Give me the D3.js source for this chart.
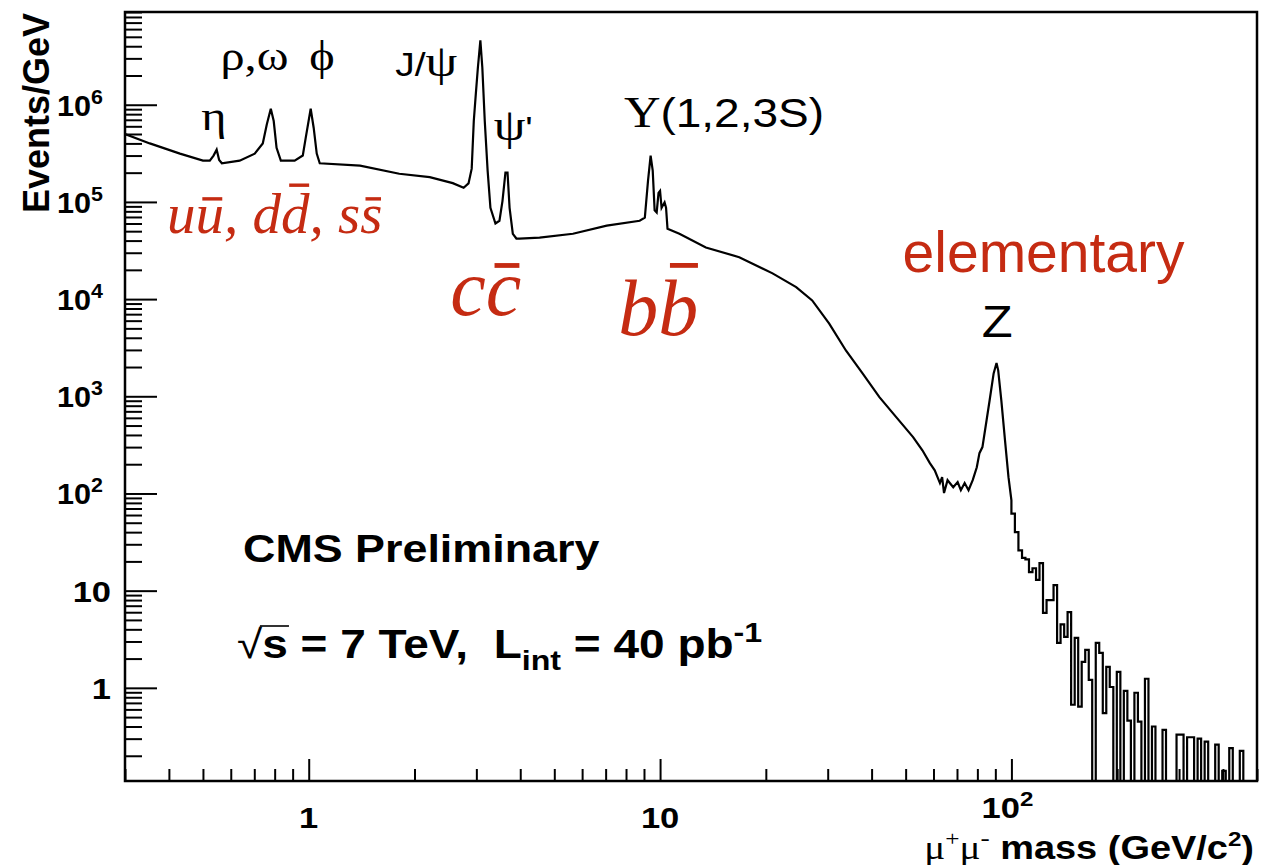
<!DOCTYPE html>
<html>
<head>
<meta charset="utf-8">
<script src="https://d3js.org/d3.v7.min.js"></script>
<style>
  html, body { margin: 0; padding: 0; background: #fff; }
  svg { display: block; }
  text { white-space: pre; }
</style>
</head>
<body>
<div id="chart"></div>
<script>
// dimuon mass spectrum (GeV, events/GeV)
const contMass = [0.30, 0.353, 0.43, 0.50, 0.523, 0.536, 0.547, 0.556, 0.566, 0.636,
  0.702, 0.74, 0.76, 0.78, 0.795, 0.81, 0.833, 0.912, 0.962, 0.98,
  1.013, 1.033, 1.054, 1.075, 1.40, 1.81, 2.21, 2.57, 2.76, 2.85,
  2.91, 2.95, 2.99, 3.03, 3.08, 3.12, 3.17, 3.23, 3.29, 3.40,
  3.49, 3.56, 3.63, 3.68, 3.73, 3.81, 3.90, 3.98, 4.54, 5.65,
  7.05, 8.75, 9.05, 9.24, 9.40, 9.53, 9.65, 9.78, 9.90, 10.0,
  10.1, 10.3, 10.4, 10.5, 11.35, 13.5, 16.8, 20.9, 24.4, 27.1,
  30.3, 33.8, 37.7, 42.1, 47.0, 52.5, 55.8, 58.6, 60.5, 62.6,
  63.5, 64.3, 65.8, 68.3, 70.3, 71.8, 73.6, 75.5, 77.6, 79.7,
  81.1, 82.7, 85.0, 86.7, 89.0, 90.7, 91.7, 93.6, 95.9, 98.1, 100];
const contEvents = [5.0e5, 4.0e5, 3.14e5, 2.66e5, 2.66e5, 3.0e5, 3.45e5, 2.7e5, 2.5e5, 2.66e5,
  3.14e5, 4.0e5, 6.3e5, 9.1e5, 6.8e5, 3.6e5, 2.66e5, 2.66e5, 3.0e5, 4.5e5,
  9.1e5, 5.8e5, 3.14e5, 2.5e5, 2.36e5, 1.95e5, 1.8e5, 1.56e5, 1.4e5, 1.55e5,
  2.2e5, 6.8e5, 1.3e6, 2.4e6, 4.6e6, 2.4e6, 6.8e5, 2.1e5, 8.7e4, 6.0e4,
  6.4e4, 1.02e5, 2.0e5, 2.0e5, 8.7e4, 4.7e4, 4.2e4, 4.2e4, 4.3e4, 4.7e4,
  5.7e4, 6.4e4, 6.9e4, 1.65e5, 3.0e5, 2.1e5, 8.2e4, 7.8e4, 1.24e5, 1.3e5,
  8.7e4, 9.9e4, 8.7e4, 5.3e4, 4.7e4, 3.4e4, 2.7e4, 1.84e4, 1.33e4, 9.7e3,
  5.6e3, 2.96e3, 1.72e3, 980, 610, 380, 278, 205, 173, 128,
  147, 101, 137, 116, 131, 108, 128, 108, 137, 186,
  260, 300, 570, 910, 1720, 2200, 1850, 910, 350, 147, 85];

// high-mass tail: bin edges and contents (0 = empty bin)
const tailEdges = [100, 102.3, 104.7, 107.2, 109.6, 112.2, 114.8, 117.5, 120.2, 123.0,
  125.9, 128.8, 131.8, 134.9, 138.0, 141.3, 144.5, 147.9, 151.4, 154.9,
  158.5, 162.2, 166.0, 169.8, 173.8, 177.8, 182.0, 186.2, 190.5, 195.0,
  199.5, 204.2, 208.9, 213.8, 218.8, 223.9, 229.1, 234.4, 239.9, 245.5,
  251.2, 257.0, 263.0, 269.2, 275.4, 281.8, 288.4, 295.1, 302.0, 309.0,
  316.2, 323.6, 331.1, 338.8, 346.7, 354.8, 363.1, 371.5, 380.2, 389.0,
  398.1, 407.4, 416.9, 426.6, 436.5, 446.7, 457.1, 467.7, 478.6, 489.8, 500];
const tailEvents = [62, 40, 26, 21.7, 21, 15.5, 17, 12.9, 19.2, 5.9,
  8.0, 8.0, 11.4, 2.9, 4.5, 3.34, 6.0, 0.67, 3.26, 0.64,
  1.85, 2.46, 1.21, 0, 2.9, 2.29, 0.55, 1.64, 1.02, 0,
  1.46, 0, 0.93, 0.46, 0, 0.89, 0.45, 0, 1.24, 0,
  0.40, 0, 0, 0.37, 0, 0, 0, 0.33, 0.33, 0,
  0.31, 0.31, 0, 0.30, 0, 0.28, 0, 0, 0.26, 0,
  0.14, 0, 0.24, 0, 0, 0.225, 0, 0, 0, 0];

const xMajor = [1, 10, 100];
const xMajorLabels = [["1"], ["10"], ["10", "2"]];
const yMajor = [1, 10, 1e2, 1e3, 1e4, 1e5, 1e6];
const yMajorLabels = [["1"], ["10"], ["10", "2"], ["10", "3"], ["10", "4"], ["10", "5"], ["10", "6"]];

const W = 1266, H = 865;
const frameL = 125, frameR = 1257, frameT = 12, frameB = 781;
const SANS = '"Liberation Sans", Arial, Helvetica, sans-serif';
const SERIF = '"Liberation Serif", "Times New Roman", serif';
const RED = "#c52b12";
const SX = 1.15; // the ROOT canvas is a little wider than tall in this copy

const svg = d3.select("#chart").append("svg")
  .attr("width", W).attr("height", H);

const x = d3.scaleLog().domain([0.3, 500]).range([frameL, frameR]);
const y = d3.scaleLog().domain([0.11, 9e6]).range([frameB, frameT]);
const yv = v => y(Math.max(v, 0.11));

// text built from runs, so super/subscripts and bars can be placed
function richText(px, py, parts, o) {
  o = o || {};
  const fill = o.fill || "#000";
  const g = svg.append("g")
    .attr("transform", `translate(${px},${py}) scale(${o.sx || 1},1)`);
  const inner = g.append("g");
  let cx = 0;
  parts.forEach(function(p) {
    const dy = p.dy || 0;
    const t = inner.append("text")
      .attr("x", cx).attr("y", dy)
      .attr("font-family", p.serif ? SERIF : SANS)
      .attr("font-size", p.size)
      .attr("font-weight", p.bold ? "bold" : "normal")
      .attr("font-style", p.italic ? "italic" : "normal")
      .attr("fill", fill)
      .text(p.t);
    const w = t.node().getComputedTextLength();
    if (p.bar) {
      const h = dy - p.bar * p.size;
      inner.append("line")
        .attr("x1", cx + w * (0.12 + 0.2 * p.bar)).attr("x2", cx + w * (0.82 + 0.2 * p.bar))
        .attr("y1", h).attr("y2", h)
        .attr("stroke", fill).attr("stroke-width", p.size * 0.06);
    }
    if (p.root) {
      const h = dy - p.root * p.size;
      inner.append("line")
        .attr("x1", cx - 2).attr("x2", cx + w + 1)
        .attr("y1", h).attr("y2", h)
        .attr("stroke", fill).attr("stroke-width", 1.6);
    }
    cx += w;
  });
  const anchor = o.anchor || "start";
  if (anchor === "end") inner.attr("transform", `translate(${-cx},0)`);
  if (anchor === "middle") inner.attr("transform", `translate(${-cx / 2},0)`);
  return g;
}

// ---- histogram line
const pts = contMass.map((m, i) => [x(m), yv(contEvents[i])]);
tailEvents.forEach(function(v, i) {
  pts.push([x(tailEdges[i]), yv(v)]);
  pts.push([x(tailEdges[i + 1]), yv(v)]);
});

svg.append("clipPath").attr("id", "clip")
  .append("rect").attr("x", frameL).attr("y", frameT)
  .attr("width", frameR - frameL).attr("height", frameB - frameT);

svg.append("path")
  .attr("clip-path", "url(#clip)")
  .attr("d", d3.line()(pts))
  .attr("fill", "none")
  .attr("stroke", "#000")
  .attr("stroke-width", 2.2)
  .attr("stroke-linejoin", "miter");

// ---- axes (ticks point inward, ROOT style)
const isPow10 = v => Math.abs(Math.log10(v) - Math.round(Math.log10(v))) < 1e-9;
const yMinor = y.ticks().filter(v => !isPow10(v));
const xMinor = x.ticks().filter(v => !isPow10(v));

function styleAxis(g) {
  g.select(".domain").remove();
  g.selectAll("line").attr("stroke", "#000").attr("stroke-width", 2);
  g.selectAll("text").remove();
}

svg.append("g").attr("transform", `translate(${frameL},0)`)
  .call(d3.axisLeft(y).tickValues(yMajor).tickSize(-32).tickFormat(""))
  .call(styleAxis);
svg.append("g").attr("transform", `translate(${frameL},0)`)
  .call(d3.axisLeft(y).tickValues(yMinor).tickSize(-17).tickFormat(""))
  .call(styleAxis);
svg.append("g").attr("transform", `translate(0,${frameB})`)
  .call(d3.axisBottom(x).tickValues(xMajor).tickSize(-22).tickFormat(""))
  .call(styleAxis);
svg.append("g").attr("transform", `translate(0,${frameB})`)
  .call(d3.axisBottom(x).tickValues(xMinor).tickSize(-12).tickFormat(""))
  .call(styleAxis);

svg.append("rect")
  .attr("x", frameL).attr("y", frameT)
  .attr("width", frameR - frameL).attr("height", frameB - frameT)
  .attr("fill", "none").attr("stroke", "#000").attr("stroke-width", 2.5);

// tick labels
function tickParts(lab) {
  const parts = [{ t: lab[0], size: 30, bold: true }];
  if (lab[1]) parts.push({ t: lab[1], size: 21, bold: true, dy: -12 });
  return parts;
}
yMajor.forEach(function(v, i) {
  const lab = yMajorLabels[i];
  richText(lab[1] ? 103 : 111, y(v) + 11, tickParts(lab), { sx: lab[1] ? 1.02 : SX, anchor: "end" });
});
xMajor.forEach(function(v, i) {
  const lab = xMajorLabels[i];
  richText(x(v) + (lab[1] ? -4 : 0), lab[1] ? 818 : 828, tickParts(lab), { sx: SX, anchor: "middle" });
});

// axis titles
svg.append("text")
  .attr("transform", "translate(49,13) rotate(-90)")
  .attr("text-anchor", "end")
  .attr("font-family", SANS).attr("font-weight", "bold").attr("font-size", 36)
  .text("Events/GeV");

richText(1254, 859, [
  { t: "\u03bc", size: 34, serif: true },
  { t: "+", size: 22, serif: true, dy: -13 },
  { t: "\u03bc", size: 34, serif: true },
  { t: "-", size: 24, serif: true, dy: -13 },
  { t: " mass (GeV/c", size: 33, bold: true },
  { t: "2", size: 21, bold: true, dy: -13 },
  { t: ")", size: 33, bold: true }
], { sx: SX, anchor: "end" });

// resonance labels
richText(x(0.537), y(5.48e5), [{ t: "\u03b7", size: 42, serif: true }], { sx: SX, anchor: "middle" });
richText(x(0.701), y(2.27e6), [{ t: "\u03c1,\u03c9", size: 42, serif: true }], { sx: SX, anchor: "middle" });
richText(x(1.09), y(2.27e6), [{ t: "\u03d5", size: 42, serif: true }], { sx: SX, anchor: "middle" });
richText(x(2.16), y(1.97e6), [
  { t: "J/", size: 34 },
  { t: "\u03c8", size: 44, serif: true }
], { sx: SX, anchor: "middle" });
richText(x(3.82), y(4.33e5), [
  { t: "\u03c8", size: 44, serif: true },
  { t: "'", size: 34 }
], { sx: SX, anchor: "middle" });
richText(x(15.2), y(5.89e5), [
  { t: "\u03a5", size: 44, serif: true },
  { t: "(1,2,3S)", size: 40 }
], { sx: SX, anchor: "middle" });
richText(x(91.1), y(4.07e3), [{ t: "Z", size: 44 }], { sx: SX, anchor: "middle" });

// quark content labels
richText(x(0.395), y(4.78e4), [
  { t: "u", size: 57, serif: true, italic: true },
  { t: "u", size: 57, serif: true, italic: true, bar: 0.6 },
  { t: ", ", size: 57, serif: true, italic: true },
  { t: "d", size: 57, serif: true, italic: true },
  { t: "d", size: 57, serif: true, italic: true, bar: 0.84 },
  { t: ", ", size: 57, serif: true, italic: true },
  { t: "s", size: 57, serif: true, italic: true },
  { t: "s", size: 57, serif: true, italic: true, bar: 0.6 }
], { fill: RED });
richText(x(2.53), y(6.85e3), [
  { t: "c", size: 80, serif: true, italic: true },
  { t: "c", size: 80, serif: true, italic: true, bar: 0.62 }
], { fill: RED });
richText(x(7.60), y(4.27e3), [
  { t: "b", size: 80, serif: true, italic: true },
  { t: "b", size: 80, serif: true, italic: true, bar: 0.87 }
], { fill: RED });
richText(x(49), y(1.9e4), [{ t: "elementary", size: 57 }], { fill: RED });

// CMS labels
richText(243, 562, [{ t: "CMS Preliminary", size: 39, bold: true }], { sx: SX });
richText(237, 658, [
  { t: "\u221a", size: 40 },
  { t: "s", size: 40, bold: true, root: 0.8 },
  { t: " = 7 TeV,  L", size: 40, bold: true },
  { t: "int", size: 28, bold: true, dy: 12 },
  { t: " = 40 pb", size: 40, bold: true },
  { t: "-1", size: 28, bold: true, dy: -16 }
], { sx: SX });
</script>
</body>
</html>
